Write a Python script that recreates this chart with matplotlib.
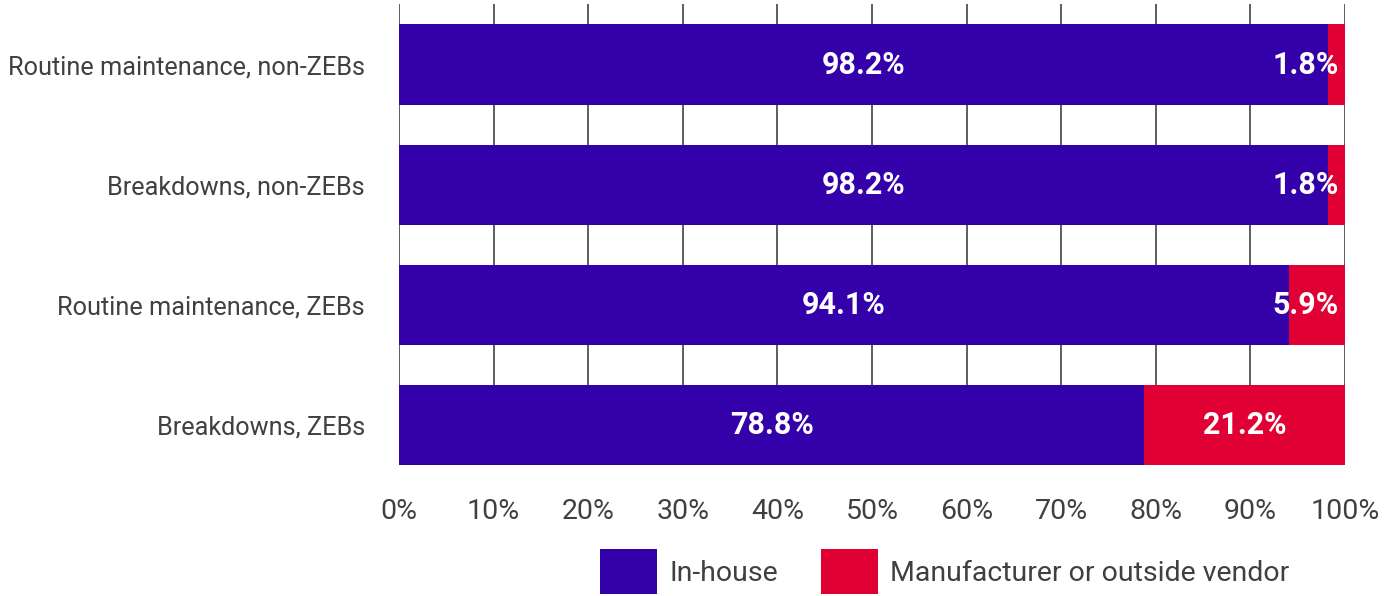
import matplotlib
matplotlib.use("Agg")
import matplotlib.pyplot as plt
from matplotlib.patches import Patch

categories = ["Routine maintenance, non-ZEBs", "Breakdowns, non-ZEBs",
              "Routine maintenance, ZEBs", "Breakdowns, ZEBs"]
in_house = [98.2, 98.2, 94.1, 78.8]
vendor = [1.8, 1.8, 5.9, 21.2]
series_names = ["In-house", "Manufacturer or outside vendor"]
x_ticks = [0, 10, 20, 30, 40, 50, 60, 70, 80, 90, 100]

PURPLE = "#3300AA"
RED = "#E00034"
TXT = "#404040"
plt.rcParams['font.family'] = ['Roboto', 'DejaVu Sans']

fig = plt.figure(figsize=(13.84, 5.96), dpi=100)
ax = fig.add_axes([399/1384, 1-465/596, (1345-399)/1384, (465-4)/596])

n = len(categories)
ypos = [n - 1 - i for i in range(n)]
h = 0.667
ax.barh(ypos, in_house, height=h, color=PURPLE, zorder=3)
ax.barh(ypos, vendor, left=in_house, height=h, color=RED, zorder=3)

LBL = 22
for y, a, b in zip(ypos, in_house, vendor):
    ax.text(a / 2, y, f"{a:.1f}%", ha="center", va="center", color="white",
            fontsize=LBL, fontweight="bold", zorder=4)
    if b < 10:
        ax.text(99.3, y, f"{b:.1f}%", ha="right", va="center", color="white",
                fontsize=LBL, fontweight="bold", zorder=4)
    else:
        ax.text(a + b / 2, y, f"{b:.1f}%", ha="center", va="center", color="white",
                fontsize=LBL, fontweight="bold", zorder=4)

ax.set_xlim(0, 100)
ax.set_ylim(-h / 2, n - 1 + 0.504)
ax.set_xticks(x_ticks)
ax.set_xticklabels([f"{t}%" for t in x_ticks])
ax.set_yticks(ypos)
ax.set_yticklabels(categories)
ax.tick_params(axis="both", length=0, labelcolor=TXT)
ax.tick_params(axis="x", pad=24, labelsize=20.5)
ax.tick_params(axis="y", pad=24.5, labelsize=18.2)
for s in ax.spines.values():
    s.set_visible(False)
ax.grid(axis="x", color="#505050", linewidth=1.3, zorder=0)
ax.grid(axis="y", visible=False)

handles = [Patch(facecolor=PURPLE), Patch(facecolor=RED)]
fig.legend(handles, series_names, loc="lower left", bbox_to_anchor=(574/1384, -0.04),
           ncol=2, frameon=False, fontsize=20.5, labelcolor=TXT,
           handlelength=2.0, handleheight=2.05, handletextpad=0.45, columnspacing=1.5)

fig.savefig("out.png", dpi=100)
